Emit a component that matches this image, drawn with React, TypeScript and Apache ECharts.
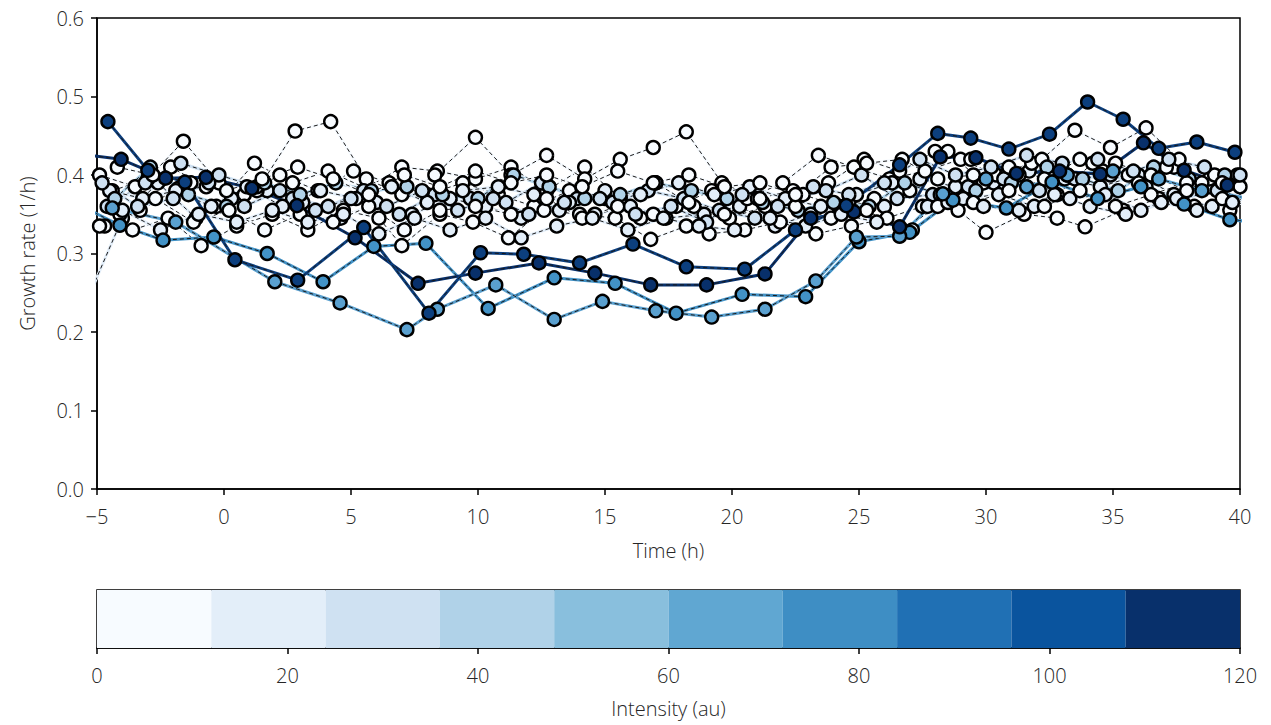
import React, { useEffect, useRef } from "react";
import * as echarts from "echarts";

// Colour-bar bins (Blues, 10 levels, 0–120 au)
const BIN_EDGES = [0, 12, 24, 36, 48, 60, 72, 84, 96, 108, 120];
const BIN_COLORS = [
  "#f7fbff", "#e3eef9", "#cfe1f2", "#b0d2e8", "#89bfdd",
  "#60a7d2", "#3e8ec4", "#2070b4", "#0a549e", "#08306b",
];

// Light (low intensity) cells: [time (h), growth rate (1/h)]
const L1 = [[-4.9,0.40],[-3.5,0.385],[-2.1,0.41],[-0.7,0.385],[0.8,0.375],[2.2,0.40],[3.7,0.38],[5.1,0.405],[6.5,0.39],[8.0,0.375],[9.4,0.39],[10.8,0.375],[12.2,0.36],[13.6,0.38],[15.0,0.37],[16.4,0.345],[17.8,0.36],[19.2,0.38],[20.6,0.37],[22.0,0.39],[23.4,0.425],[24.8,0.41],[26.2,0.395],[27.6,0.405],[29.0,0.42],[30.4,0.40],[31.8,0.415],[33.2,0.40],[34.6,0.405],[36.0,0.39],[37.4,0.41],[38.8,0.395],[40.0,0.385]];
const L2 = [[-4.7,0.335],[-3.3,0.355],[-1.8,0.383],[-0.3,0.36],[1.2,0.415],[2.7,0.39],[4.1,0.405],[5.6,0.383],[7.0,0.41],[8.4,0.405],[9.9,0.395],[11.3,0.41],[12.7,0.38],[14.2,0.41],[15.6,0.37],[17.0,0.39],[18.5,0.36],[19.9,0.345],[21.3,0.36],[22.8,0.375],[24.2,0.36],[25.6,0.37],[27.0,0.38],[28.5,0.43],[29.9,0.39],[31.3,0.40],[32.8,0.375],[34.2,0.415],[35.6,0.40],[37.1,0.41],[38.5,0.39],[39.9,0.40]];
const L3 = [[-5.4,0.24],[-4.0,0.345],[-2.6,0.39],[-1.1,0.345],[0.3,0.37],[1.7,0.38],[3.1,0.365],[4.6,0.345],[6.0,0.365],[7.4,0.35],[8.9,0.37],[10.3,0.36],[11.7,0.345],[13.2,0.355],[14.6,0.35],[16.0,0.36],[17.4,0.345],[18.9,0.35],[20.3,0.36],[21.7,0.335],[23.1,0.35],[24.6,0.365],[26.0,0.36],[27.4,0.395],[28.8,0.385],[30.3,0.39],[31.7,0.405],[33.1,0.395],[34.5,0.385],[36.0,0.40],[37.4,0.375],[38.8,0.385],[40.2,0.39]];
const L4 = [[-4.4,0.38],[-3.0,0.395],[-1.6,0.443],[-0.2,0.39],[1.3,0.38],[2.8,0.456],[4.2,0.468],[5.6,0.395],[7.0,0.375],[8.3,0.40],[9.9,0.448],[11.3,0.40],[12.7,0.425],[14.2,0.395],[15.6,0.42],[16.9,0.435],[18.2,0.455],[19.6,0.39],[21.0,0.37],[22.4,0.38],[23.8,0.39],[25.2,0.42],[26.6,0.405],[28.0,0.43],[29.4,0.42],[30.8,0.40],[32.2,0.42],[33.5,0.457],[34.9,0.435],[36.3,0.46],[37.6,0.42],[39.0,0.40]];
const L5 = [[-4.6,0.36],[-3.1,0.39],[-1.7,0.415],[-0.2,0.40],[1.3,0.385],[2.7,0.37],[4.1,0.36],[5.5,0.38],[6.9,0.35],[8.3,0.375],[9.7,0.37],[11.1,0.365],[12.5,0.39],[13.9,0.37],[15.3,0.365],[16.7,0.38],[18.1,0.37],[19.5,0.355],[20.9,0.345],[22.3,0.37],[23.7,0.38],[25.1,0.40],[26.5,0.37],[27.9,0.375],[29.3,0.385],[30.7,0.395],[32.1,0.38],[33.5,0.395],[34.9,0.40],[36.3,0.385],[37.7,0.37],[39.1,0.38],[40.3,0.37]];
const L6 = [[-4.9,0.335],[-3.6,0.33],[-2.2,0.345],[-0.9,0.31],[0.5,0.335],[1.9,0.35],[3.3,0.33],[4.7,0.355],[6.1,0.345],[7.0,0.31],[8.5,0.35],[9.8,0.34],[11.2,0.32],[12.6,0.355],[14.0,0.35],[15.4,0.345],[16.8,0.318],[18.2,0.335],[19.1,0.325],[20.5,0.33],[21.9,0.34],[23.3,0.325],[24.7,0.335],[26.1,0.345],[27.5,0.36],[28.9,0.355],[30.0,0.327],[31.5,0.35],[32.8,0.345],[33.9,0.334],[35.4,0.355],[36.8,0.37],[38.2,0.36],[39.6,0.355]];
const L7 = [[-4.5,0.38],[-3.2,0.37],[-1.9,0.38],[-0.5,0.36],[0.9,0.385],[2.3,0.36],[3.8,0.38],[5.2,0.37],[6.6,0.385],[8.0,0.365],[9.4,0.38],[10.8,0.385],[12.2,0.375],[13.6,0.365],[15.0,0.38],[16.4,0.375],[17.9,0.39],[19.3,0.375],[20.7,0.385],[22.1,0.37],[23.5,0.36],[24.9,0.375],[26.3,0.39],[27.7,0.36],[29.1,0.37],[30.5,0.375],[31.9,0.36],[33.3,0.37],[34.7,0.375],[36.1,0.355],[37.5,0.37],[38.9,0.36],[40.2,0.37]];
const L8 = [[-4.3,0.37],[-2.9,0.41],[-1.4,0.375],[0.1,0.36],[1.6,0.39],[3.0,0.375],[4.4,0.39],[5.8,0.38],[7.2,0.385],[8.6,0.375],[10.0,0.37],[11.4,0.40],[12.8,0.385],[14.2,0.37],[15.6,0.375],[17.0,0.39],[18.4,0.38],[19.8,0.37],[21.2,0.365],[22.6,0.355],[24.0,0.365],[25.4,0.36],[26.8,0.39],[28.2,0.375],[29.6,0.38],[31.0,0.39],[32.4,0.41],[33.8,0.395],[35.2,0.38],[36.6,0.41],[38.0,0.395],[39.4,0.40]];
const L9 = [[-4.1,0.35],[-2.7,0.37],[-1.2,0.34],[0.2,0.355],[1.6,0.33],[3.0,0.35],[4.3,0.34],[5.7,0.36],[7.1,0.33],[8.5,0.355],[9.9,0.36],[11.3,0.35],[12.7,0.37],[14.1,0.345],[15.5,0.36],[16.9,0.35],[18.3,0.365],[19.7,0.35],[21.1,0.37],[22.5,0.36],[23.9,0.345],[25.3,0.355],[26.7,0.33],[28.1,0.36],[29.5,0.365],[30.9,0.38],[32.3,0.36],[33.7,0.38],[35.1,0.36],[36.5,0.375],[37.9,0.39],[39.3,0.37],[40.5,0.36]];
const L10 = [[-4.8,0.39],[-3.4,0.36],[-2.0,0.37],[-0.6,0.39],[0.8,0.36],[2.2,0.38],[3.6,0.355],[5.0,0.37],[6.4,0.36],[7.8,0.38],[9.2,0.355],[10.6,0.37],[12.0,0.35],[13.4,0.365],[14.8,0.37],[16.2,0.35],[17.6,0.36],[19.0,0.34],[20.4,0.375],[21.8,0.36],[23.2,0.385],[24.6,0.375],[26.0,0.39],[27.4,0.42],[28.8,0.40],[30.2,0.41],[31.6,0.425],[33.0,0.415],[34.4,0.42],[35.8,0.405],[37.2,0.42],[38.6,0.41],[40.0,0.40]];
const L11 = [[-4.2,0.41],[-2.8,0.40],[-1.3,0.39],[0.1,0.38],[1.5,0.395],[2.9,0.41],[4.3,0.395],[5.7,0.375],[7.1,0.40],[8.5,0.385],[9.9,0.405],[11.3,0.39],[12.7,0.40],[14.1,0.385],[15.5,0.405],[16.9,0.39],[18.3,0.40],[19.7,0.385],[21.1,0.39],[22.5,0.375],[23.9,0.41],[25.3,0.415],[26.7,0.42],[28.1,0.395],[29.5,0.40],[30.9,0.41],[32.3,0.395],[33.7,0.42],[35.1,0.415],[36.5,0.40],[37.9,0.38],[39.3,0.39],[40.6,0.40]];
const L12 = [[-4.0,0.355],[-2.5,0.33],[-1.0,0.35],[0.5,0.34],[1.9,0.355],[3.3,0.34],[4.7,0.35],[6.1,0.325],[7.5,0.345],[8.9,0.33],[10.3,0.345],[11.7,0.32],[13.1,0.335],[14.5,0.345],[15.9,0.33],[17.3,0.345],[18.7,0.335],[20.1,0.33],[21.5,0.345],[22.9,0.335],[24.3,0.35],[25.7,0.34],[27.1,0.33],[28.5,0.365],[29.9,0.36],[31.3,0.355],[32.7,0.375],[34.1,0.36],[35.5,0.35],[36.9,0.365],[38.3,0.355],[39.7,0.365]];

// Medium intensity cells
const MA = [[-5.6,0.36],[-4.1,0.336],[-2.4,0.317],[-0.4,0.321],[1.7,0.300],[3.9,0.264],[5.9,0.309],[7.95,0.313],[10.4,0.230],[13.0,0.269],[15.4,0.262],[17.8,0.224],[20.4,0.248],[22.9,0.245],[25.0,0.315],[27.0,0.327],[28.7,0.368],[30.8,0.358],[32.6,0.391],[34.4,0.370],[36.1,0.385],[37.8,0.363],[39.6,0.343],[40.6,0.34]];
const MB = [[-4.4,0.358],[-1.9,0.34],[2.0,0.264],[4.57,0.237],[7.2,0.203],[8.4,0.229],[10.7,0.26],[13.0,0.216],[14.9,0.239],[17.0,0.227],[19.2,0.219],[21.3,0.229],[23.3,0.265],[24.9,0.321],[26.6,0.322],[28.3,0.376],[30.0,0.395],[31.6,0.385],[33.2,0.40],[35.0,0.405],[36.8,0.395],[38.5,0.38],[40.4,0.37]];

// High intensity cells
const DA = [[-6.0,0.428],[-4.05,0.420],[-2.3,0.396],[-0.71,0.397],[1.1,0.383],[2.87,0.361],[5.16,0.320],[7.64,0.262],[9.9,0.275],[12.4,0.288],[14.6,0.275],[16.8,0.260],[19.0,0.260],[21.3,0.274],[23.1,0.345],[24.8,0.353],[26.6,0.334],[28.2,0.423],[29.6,0.422],[31.2,0.402],[32.9,0.405],[34.5,0.401],[36.2,0.441],[37.8,0.406],[39.5,0.387],[40.8,0.39]];
const DB = [[-4.57,0.468],[-3.0,0.406],[-1.54,0.391],[0.43,0.292],[2.9,0.266],[5.5,0.333],[8.07,0.224],[10.1,0.301],[11.8,0.299],[14.0,0.288],[16.1,0.312],[18.2,0.283],[20.5,0.280],[22.5,0.330],[24.5,0.361],[26.6,0.413],[28.1,0.453],[29.4,0.447],[30.9,0.433],[32.5,0.452],[34.0,0.493],[35.4,0.471],[36.8,0.434],[38.3,0.442],[39.8,0.429]];

const CELLS = [
  { data: L3, color: BIN_COLORS[1] },
  { data: L1, color: BIN_COLORS[0] },
  { data: L2, color: BIN_COLORS[0] },
  { data: L4, color: BIN_COLORS[0] },
  { data: L5, color: BIN_COLORS[2] },
  { data: L6, color: BIN_COLORS[0] },
  { data: L7, color: BIN_COLORS[1] },
  { data: L8, color: BIN_COLORS[3] },
  { data: L9, color: BIN_COLORS[0] },
  { data: L10, color: BIN_COLORS[2] },
  { data: L11, color: BIN_COLORS[0] },
  { data: L12, color: BIN_COLORS[1] },
  { data: MA, color: "#4292c6" },
  { data: MB, color: "#5aa0cf" },
  { data: DA, color: "#08306b" },
  { data: DB, color: "#0c3f7e" },
];

const FONT = "'Open Sans', 'Noto Sans', sans-serif";

export default function App() {
  const ref = useRef<HTMLDivElement>(null);

  useEffect(() => {
    document.body.style.margin = "0";
    if (!ref.current) return;
    const chart = echarts.init(ref.current, null, { renderer: "svg" });

    const series: any[] = [];
    CELLS.forEach((c) => {
      series.push({
        type: "line",
        xAxisIndex: 0,
        yAxisIndex: 0,
        data: c.data,
        clip: true,
        silent: true,
        symbol: "circle",
        symbolSize: 13,
        showAllSymbol: true,
        lineStyle: { color: c.color, width: 3 },
        itemStyle: { color: c.color, borderColor: "#000", borderWidth: 2.4 },
        z: 2,
      });
      series.push({
        type: "line",
        xAxisIndex: 0,
        yAxisIndex: 0,
        data: c.data,
        clip: true,
        silent: true,
        symbol: "none",
        lineStyle: { color: "#1a1a1a", width: 1, type: [4, 3] },
        z: 2,
      });
    });

    const binData = BIN_COLORS.map((_, i) => [BIN_EDGES[i], BIN_EDGES[i + 1]]);
    series.push({
      type: "custom",
      xAxisIndex: 1,
      yAxisIndex: 1,
      silent: true,
      data: binData,
      renderItem: (params: any, api: any) => {
        const p0 = api.coord([api.value(0), 1]);
        const p1 = api.coord([api.value(1), 0]);
        return {
          type: "rect",
          shape: { x: p0[0], y: p0[1], width: p1[0] - p0[0], height: p1[1] - p0[1] },
          style: { fill: BIN_COLORS[params.dataIndex], stroke: null },
        };
      },
      z: 1,
    });

    const axisText = { fontFamily: FONT, fontSize: 20, fontWeight: 300, color: "#262626" };
    const axisLine = { show: true, onZero: false, lineStyle: { color: "#000", width: 1.5 } };
    const axisTick = { show: true, inside: false, length: 6, lineStyle: { color: "#000", width: 1.5 } };

    chart.setOption({
      animation: false,
      grid: [
        { left: 97, right: 31, top: 18, height: 471, show: true, borderColor: "#000", borderWidth: 1.5, backgroundColor: "transparent" },
        { left: 97, right: 31, top: 590, height: 58, show: true, borderColor: "#000", borderWidth: 1.5, backgroundColor: "transparent" },
      ],
      xAxis: [
        {
          type: "value",
          gridIndex: 0,
          min: -5,
          max: 40,
          interval: 5,
          splitLine: { show: false },
          axisLine,
          axisTick,
          axisLabel: { ...axisText, margin: 17, formatter: (v: number) => String(v).replace("-", "\u2212") },
          name: "Time (h)",
          nameLocation: "middle",
          nameGap: 51,
          nameTextStyle: axisText,
        },
        {
          type: "value",
          gridIndex: 1,
          min: 0,
          max: 120,
          interval: 20,
          splitLine: { show: false },
          axisLine,
          axisTick,
          axisLabel: { ...axisText, margin: 17 },
          name: "Intensity (au)",
          nameLocation: "middle",
          nameGap: 50,
          nameTextStyle: axisText,
        },
      ],
      yAxis: [
        {
          type: "value",
          gridIndex: 0,
          min: 0,
          max: 0.6,
          interval: 0.1,
          splitLine: { show: false },
          axisLine,
          axisTick,
          axisLabel: { ...axisText, margin: 13, formatter: (v: number) => v.toFixed(1) },
          name: "Growth rate (1/h)",
          nameLocation: "middle",
          nameGap: 60,
          nameTextStyle: axisText,
        },
        {
          type: "value",
          gridIndex: 1,
          min: 0,
          max: 1,
          show: false,
        },
      ],
      series,
    });

    return () => chart.dispose();
  }, []);

  return <div ref={ref} style={{ width: 1271, height: 725 }} />;
}
